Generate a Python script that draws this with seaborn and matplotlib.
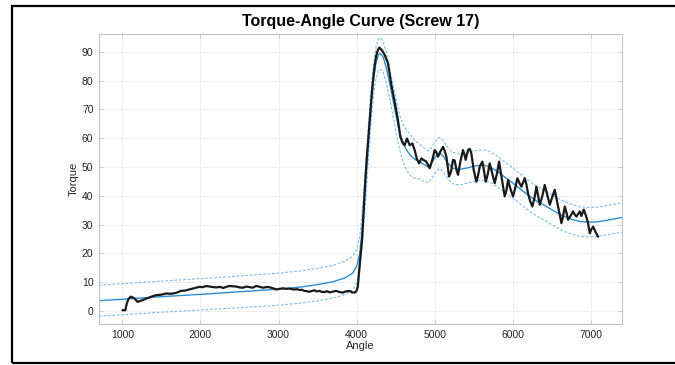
import numpy as np
import pandas as pd
import matplotlib
matplotlib.use("Agg")
import matplotlib.pyplot as plt
import matplotlib.patches as mpatches
import seaborn as sns

# -------------------------------
# Measured torque-angle trace (read off the reference)
# -------------------------------
angle = [1000, 1038, 1055, 1081, 1110, 1152, 1195, 1259, 1300, 1345, 1390, 1430,
         1500, 1559, 1620, 1687, 1751, 1800, 1858, 1920, 1986, 2030, 2072, 2140,
         2200, 2250, 2290, 2330, 2370, 2420, 2460, 2500, 2541, 2590, 2630, 2670,
         2712, 2750, 2797, 2840, 2880, 2930, 2968, 3010, 3054, 3100, 3140, 3170,
         3200, 3240, 3268, 3300, 3330, 3360, 3396, 3430, 3460, 3490, 3524, 3560,
         3590, 3620, 3652, 3690, 3737, 3780, 3823, 3860, 3908, 3940, 3972, 3995,
         4015, 4045, 4070, 4090, 4110, 4130, 4150, 4170, 4190, 4210, 4230, 4250,
         4270, 4290, 4310, 4330, 4359, 4402, 4445, 4487, 4530, 4560, 4594, 4615,
         4645, 4680, 4714, 4744, 4770, 4800, 4830, 4860, 4893, 4936, 4970, 5000,
         5020, 5043, 5075, 5107, 5130, 5150, 5184, 5210, 5235, 5256, 5280, 5299,
         5330, 5363, 5380, 5397, 5427, 5450, 5470, 5500, 5534, 5555, 5577, 5611,
         5630, 5654, 5680, 5705, 5735, 5769, 5800, 5825, 5860, 5897, 5920, 5940,
         5970, 6004, 6030, 6060, 6085, 6111, 6154, 6175, 6196, 6225, 6252, 6280,
         6303, 6325, 6346, 6380, 6410, 6440, 6474, 6505, 6538, 6580, 6624, 6645,
         6667, 6690, 6709, 6740, 6773, 6795, 6816, 6840, 6859, 6880, 6910, 6940,
         6965, 6987, 7010, 7030, 7060, 7094]
torque = [0.3, 0.3, 2.6, 4.4, 5.0, 4.4, 3.2, 3.8, 4.3, 4.7, 5.2, 5.5,
          5.7, 6.1, 6.0, 6.3, 7.0, 7.1, 7.5, 7.9, 8.4, 8.3, 8.7, 8.4,
          8.2, 8.4, 8.0, 8.4, 8.7, 8.6, 8.5, 8.2, 8.1, 8.5, 8.3, 8.1,
          8.7, 8.5, 8.1, 8.3, 8.3, 7.9, 7.5, 7.7, 7.9, 7.7, 7.8, 7.6,
          7.5, 7.6, 7.3, 7.4, 7.0, 6.9, 6.7, 7.0, 7.2, 6.8, 7.0, 6.6,
          6.6, 6.9, 6.5, 6.7, 7.0, 6.6, 6.4, 6.8, 7.0, 6.5, 6.4, 6.8,
          8.4, 17.7, 24.7, 35.0, 45.0, 53.0, 60.0, 67.0, 74.0, 80.0, 85.0, 88.5,
          90.5, 91.5, 91.0, 90.3, 89.0, 86.0, 78.5, 72.7, 66.3, 60.5, 58.2, 57.6,
          59.9, 57.6, 58.2, 55.9, 53.0, 51.3, 53.0, 52.4, 51.9, 49.6, 52.5, 55.9,
          55.2, 53.6, 55.5, 57.0, 55.5, 53.6, 46.7, 48.5, 52.5, 52.3, 49.0, 47.3,
          52.0, 55.9, 54.5, 52.5, 55.9, 56.3, 54.7, 49.0, 44.9, 47.0, 50.1, 51.9,
          49.0, 44.9, 47.5, 51.3, 48.0, 44.4, 48.0, 51.9, 46.0, 39.8, 42.0, 45.5,
          42.5, 39.8, 42.5, 46.1, 44.5, 43.2, 46.1, 44.0, 40.9, 38.0, 36.3, 39.5,
          43.2, 40.0, 36.9, 40.0, 43.8, 40.5, 36.9, 39.5, 42.1, 36.5, 30.5, 33.0,
          36.3, 34.0, 31.7, 33.0, 34.6, 33.5, 32.8, 33.8, 34.6, 33.0, 35.2, 33.0,
          30.5, 27.0, 28.5, 29.3, 27.5, 25.8]

# Smooth fit and its half band width
fit_angle = [700, 1000, 1500, 2000, 2500, 3000, 3300, 3500, 3700, 3850, 3950, 4000,
             4040, 4070, 4100, 4130, 4160, 4190, 4220, 4250, 4280, 4300, 4338, 4380,
             4423, 4465, 4508, 4550, 4600, 4650, 4700, 4750, 4808, 4860, 4915, 4960,
             5010, 5064, 5110, 5170, 5230, 5320, 5420, 5520, 5620, 5700, 5800, 5900,
             6004, 6100, 6200, 6300, 6432, 6550, 6650, 6750, 6859, 6950, 7050, 7115,
             7200, 7300, 7400]
fit_torque = [3.6, 4.1, 5.0, 5.8, 6.7, 7.6, 8.4, 9.2, 10.2, 11.5, 13.2, 15.5,
              20.0, 28.0, 38.0, 50.0, 62.0, 73.0, 81.0, 86.5, 89.0, 89.5, 88.4, 84.5,
              79.1, 73.5, 67.5, 62.0, 58.0, 55.5, 53.8, 52.6, 51.9, 50.9, 50.1, 51.3,
              53.6, 54.9, 53.8, 51.3, 49.6, 49.2, 49.7, 50.4, 50.7, 50.2, 48.5, 46.5,
              44.4, 42.3, 40.2, 38.3, 36.3, 34.4, 33.0, 31.9, 31.1, 30.9, 30.9, 31.1,
              31.5, 32.0, 32.5]
fit_band = [5.35, 5.4, 5.4, 5.45, 5.5, 5.55, 5.6, 5.65, 5.7, 5.8, 5.8, 5.8,
            5.8, 5.8, 5.8, 5.8, 5.7, 5.6, 5.5, 5.5, 5.5, 5.5, 5.3, 5.3,
            5.3, 5.5, 5.7, 6.0, 6.5, 7.0, 7.0, 6.5, 6.0, 5.8, 5.5, 5.5,
            5.4, 5.4, 5.4, 5.4, 5.4, 5.4, 5.3, 5.3, 5.3, 5.3, 5.3, 5.3,
            5.2, 5.2, 5.2, 5.2, 5.2, 5.2, 5.2, 5.2, 5.1, 5.1, 5.1, 5.1,
            5.1, 5.1, 5.1]

df = pd.DataFrame({'Angle': angle, 'Torque': torque})
fit = pd.DataFrame({'Angle': fit_angle, 'Torque': fit_torque, 'band': fit_band})
fit['upper'] = fit['Torque'] + fit['band']
fit['lower'] = fit['Torque'] - fit['band']

# -------------------------------
# Plot
# -------------------------------
sns.set_style("whitegrid")
plt.rcParams['font.family'] = ['Liberation Sans', 'DejaVu Sans']

fig = plt.figure(figsize=(6.75, 3.65), dpi=100)
ax = fig.add_axes([0.1467, 0.1123, 0.7748, 0.7945])

blue = '#2b8fd4'
light = '#7cc0ea'
sns.lineplot(data=fit, x='Angle', y='upper', ax=ax, color=light, lw=0.8,
             linestyle=(0, (2.5, 1.5)), sort=False, estimator=None)
sns.lineplot(data=fit, x='Angle', y='lower', ax=ax, color=light, lw=0.8,
             linestyle=(0, (2.5, 1.5)), sort=False, estimator=None)
sns.lineplot(data=fit, x='Angle', y='Torque', ax=ax, color=blue, lw=1.0,
             sort=False, estimator=None)
sns.lineplot(data=df, x='Angle', y='Torque', ax=ax, color='#1a1a1a', lw=1.6,
             sort=False, estimator=None, solid_joinstyle='round')

ax.set_xlim(700, 7400)
ax.set_ylim(-4.5, 96.2)
ax.set_xticks(range(1000, 8000, 1000))
ax.set_yticks(range(0, 100, 10))
ax.grid(True, color='#ebebeb', lw=0.6)
for s in ax.spines.values():
    s.set_color('#c4c4c4')
    s.set_linewidth(0.8)
ax.tick_params(direction='in', length=3, width=0.6, color='#c4c4c4',
               labelsize=7.5, labelcolor='#262626', top=True, right=True,
               left=True, bottom=True, labeltop=False, labelright=False, pad=4)
ax.set_xlabel('Angle', fontsize=8, color='#262626', labelpad=1)
ax.set_ylabel('Torque', fontsize=8, color='#262626', labelpad=2)

fig.text(0.534, 0.94, 'Torque-Angle Curve (Screw 17)', ha='center', va='center',
         fontsize=11.5, fontweight='bold', color='black')

# black frame around the figure
frame = mpatches.Rectangle((12 / 675, 1 - 363 / 365), 1.2, (363 - 6) / 365,
                           transform=fig.transFigure, fill=False,
                           edgecolor='black', lw=1.6, clip_on=False)
fig.patches.append(frame)

fig.savefig('out.png', dpi=100)
